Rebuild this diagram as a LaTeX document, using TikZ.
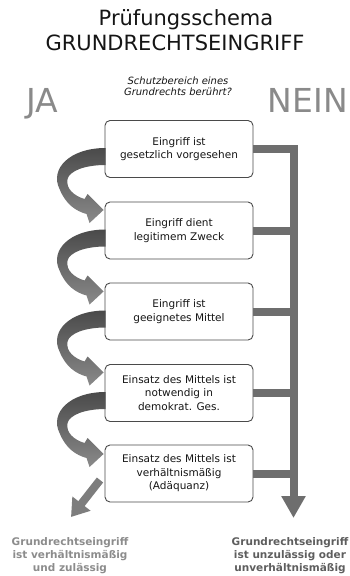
\documentclass[tikz,border=0pt]{standalone}
\usepackage{fontspec}
\setmainfont{DejaVu Sans}
\usetikzlibrary{arrows.meta,calc}
\definecolor{bargray}{HTML}{6E6E6E}
\definecolor{boxline}{HTML}{4A4A4A}
\definecolor{textdark}{HTML}{151515}
\definecolor{jagray}{HTML}{8A8A8A}
\definecolor{leftgray}{HTML}{8C8C8C}
\definecolor{rightgray}{HTML}{5E5E5E}
\definecolor{arrowtop}{HTML}{4A4A4A}
\definecolor{arrowbot}{HTML}{8A8A8A}
\newcommand{\curvedarrow}[1]{%
  \begin{scope}[shift={(#1.west)}]
    \shade[top color=arrowtop, bottom color=arrowbot]
      (1,-1) .. controls (-35,-1) and (-55,20) .. (-45,40)
      .. controls (-39,55) and (-29,62) .. (-18,65)
      -- (-15,74) -- (-1,61) -- (-17,45) -- (-20,50)
      .. controls (-30,47) and (-39,40) .. (-37,30)
      .. controls (-35,22) and (-20,16) .. (1,16) -- cycle;
  \end{scope}}
\begin{document}
\begin{tikzpicture}[x=1pt,y=-1pt,
  box/.style={draw=boxline, line width=0.9pt, rounded corners=5pt,
    minimum width=148pt, minimum height=57pt, align=center,
    font=\fontsize{10.5}{13.5}\selectfont, text=textdark, fill=white, inner sep=2pt},
  bar/.style={draw=bargray, line width=8pt},
  side/.style={font=\fontsize{33}{33}\selectfont, text=jagray, inner sep=0pt},
  result/.style={font=\bfseries\fontsize{10.5}{13}\selectfont, align=center, inner sep=0pt}
]
\useasboundingbox (0,0) rectangle (349,576);

\node[anchor=base, inner sep=0pt, text=textdark, font=\fontsize{21}{21}\selectfont] (t1) at (186,25) {Prüfungsschema};
\node[anchor=base, inner sep=0pt, text=textdark, font=\fontsize{21}{21}\selectfont] (t2) at (175,50) {GRUNDRECHTSEINGRIFF};

\node[align=center, inner sep=0pt, text=textdark, font=\itshape\fontsize{10}{11}\selectfont] (q) at (178,86) {Schutzbereich eines\\Grundrechts berührt?};

\node[side, anchor=base west] (ja) at (26,112) {JA};
\node[side, anchor=base east] (nein) at (348,112) {NEIN};

\node[box] (b1) at (179,149) {Eingriff ist\\gesetzlich vorgesehen};
\node[box] (b2) at (179,230.5) {Eingriff dient\\legitimem Zweck};
\node[box] (b3) at (179,311.5) {Eingriff ist\\geeignetes Mittel};
\node[box] (b4) at (179,393) {Einsatz des Mittels ist\\notwendig in\\demokrat. Ges.};
\node[box] (b5) at (179,473.5) {Einsatz des Mittels ist\\verhältnismäßig\\(Adäquanz)};

% NEIN line
\coordinate (nx) at (293.5,0);
\coordinate (nend) at (293.5,518);
\draw[bar, line join=miter, -{Triangle[width=23pt,length=22pt]}] (b1.east) -- (b1.east -| nx) -- (nend);
\foreach \b in {b2,b3,b4,b5} \draw[bar] (\b.east) -- (\b.east -| nx);

% JA curved arrows
\curvedarrow{b1}
\curvedarrow{b2}
\curvedarrow{b3}
\curvedarrow{b4}

% final JA arrow
\coordinate (js) at (100,480);
\coordinate (je) at (71,517);
\draw[draw=bargray!90, line width=8pt, -{Triangle[width=22pt,length=17pt]}] (js) -- (je);

\node[result, text=leftgray] (rl) at (70,556) {Grundrechtseingriff\\ist verhältnismäßig\\und zulässig};
\node[result, text=rightgray] (rr) at (290,556) {Grundrechtseingriff\\ist unzulässig oder\\unverhältnismäßig};
\end{tikzpicture}
\end{document}
